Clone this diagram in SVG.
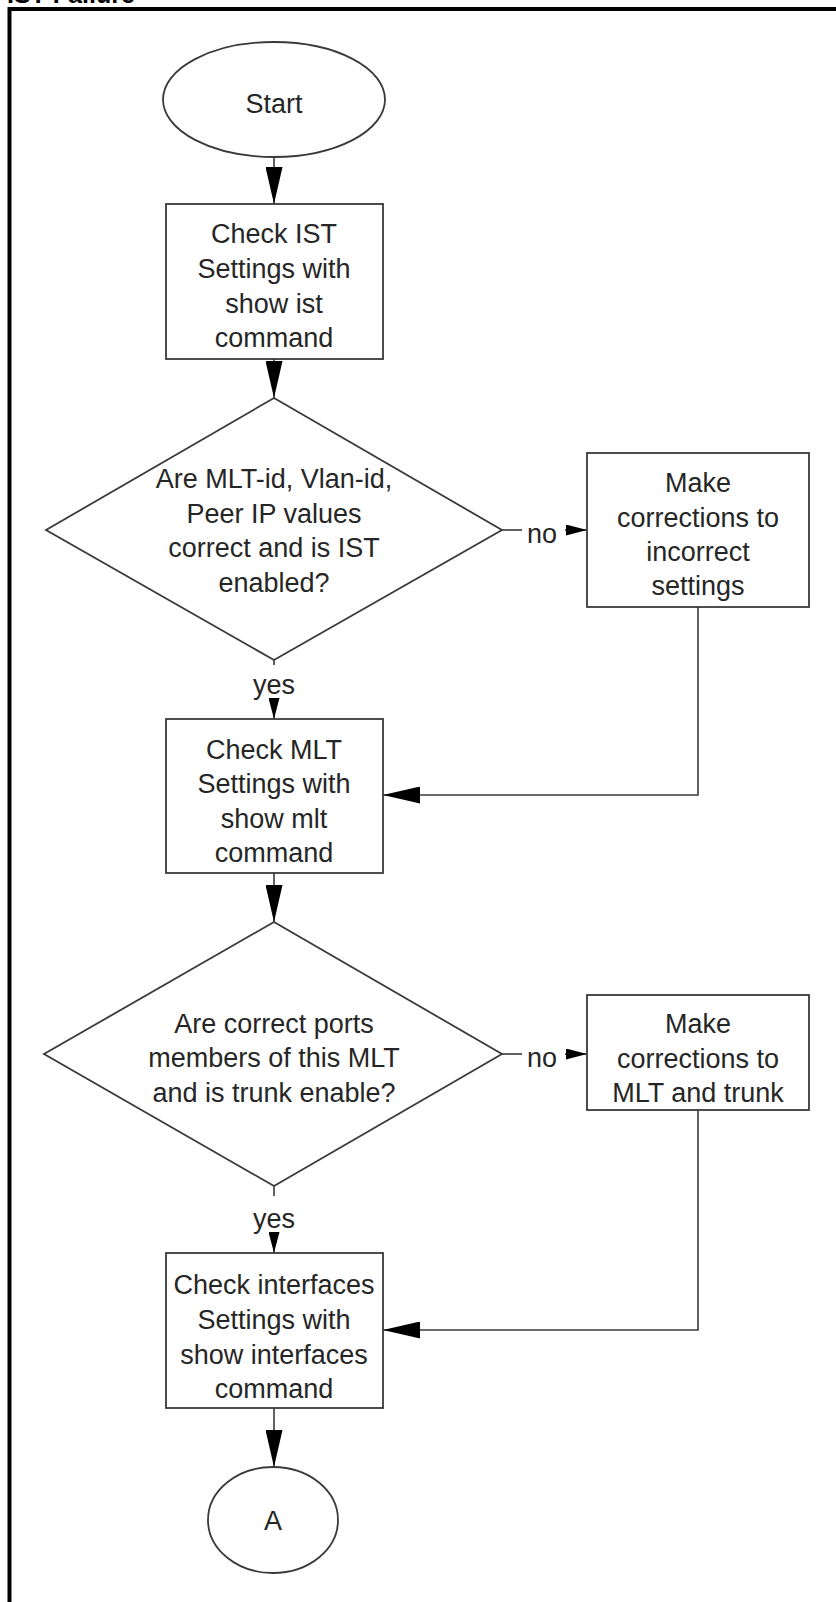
<svg xmlns="http://www.w3.org/2000/svg" width="836" height="1602" viewBox="0 0 836 1602">
<style>
.bg{fill:#fff}
.frame{fill:none;stroke:#000;stroke-width:4}
.shape{fill:#fff;stroke:#3a3a3a;stroke-width:1.8}
.conn{fill:none;stroke:#3a3a3a;stroke-width:1.6}
.t{font-family:"Liberation Sans",Arial,sans-serif;font-size:27px;fill:#262626;text-anchor:middle}
.title{font-family:"Liberation Sans",Arial,sans-serif;font-size:25px;font-weight:bold;fill:#000}
</style>
<defs>
<marker id="big" markerUnits="userSpaceOnUse" markerWidth="37" markerHeight="17" viewBox="0 0 37 17" refX="37" refY="8.5" orient="auto">
<path d="M0,0 L37,8.5 L0,17 z" fill="#000"/>
</marker>
<marker id="small" markerUnits="userSpaceOnUse" markerWidth="21" markerHeight="11" viewBox="0 0 21 11" refX="21" refY="5.5" orient="auto">
<path d="M0,0 L21,5.5 L0,11 z" fill="#000"/>
</marker>
</defs>
<rect class="bg" x="0" y="0" width="836" height="1602"/>
<text class="title" x="7" y="3">IST Failure</text>
<path class="frame" d="M9.5,1602 L9.5,9 L836,9"/>

<g id="connectors">
<path class="conn" d="M274,157 L274,204" marker-end="url(#big)"/>
<path class="conn" d="M274,359 L274,398" marker-end="url(#big)"/>
<path class="conn" d="M502,530 L522,530"/>
<path class="conn" d="M565,530 L587,530" marker-end="url(#small)"/>
<text class="t" x="542" y="543">no</text>
<path class="conn" d="M274,660 L274,665"/>
<text class="t" x="274" y="694">yes</text>
<path class="conn" d="M274,698 L274,719" marker-end="url(#small)"/>
<path class="conn" d="M698,607 L698,795 L383,795" marker-end="url(#big)"/>
<path class="conn" d="M274,873 L274,922" marker-end="url(#big)"/>
<path class="conn" d="M502,1054 L522,1054"/>
<path class="conn" d="M565,1054 L587,1054" marker-end="url(#small)"/>
<text class="t" x="542" y="1067">no</text>
<path class="conn" d="M274,1186 L274,1196"/>
<text class="t" x="274" y="1228">yes</text>
<path class="conn" d="M274,1232 L274,1253" marker-end="url(#small)"/>
<path class="conn" d="M698,1110 L698,1330 L383,1330" marker-end="url(#big)"/>
<path class="conn" d="M274,1408 L274,1467" marker-end="url(#big)"/>
</g>

<g id="start">
<ellipse class="shape" cx="274" cy="99.5" rx="111" ry="57.5"/>
<text class="t" x="274" y="113">Start</text>
</g>

<g id="check-ist">
<rect class="shape" x="166" y="204" width="217" height="155"/>
<text class="t" x="274" y="243">Check IST</text>
<text class="t" x="274" y="278">Settings with</text>
<text class="t" x="274" y="313">show ist</text>
<text class="t" x="274" y="347">command</text>
</g>

<g id="decision-ist">
<path class="shape" d="M274,398 L502,530 L274,660 L46,530 z"/>
<text class="t" x="274" y="488">Are MLT-id, Vlan-id,</text>
<text class="t" x="274" y="523">Peer IP values</text>
<text class="t" x="274" y="557">correct and is IST</text>
<text class="t" x="274" y="592">enabled?</text>
</g>

<g id="fix-ist">
<rect class="shape" x="587" y="453" width="222" height="154"/>
<text class="t" x="698" y="492">Make</text>
<text class="t" x="698" y="527">corrections to</text>
<text class="t" x="698" y="561">incorrect</text>
<text class="t" x="698" y="595">settings</text>
</g>

<g id="check-mlt">
<rect class="shape" x="166" y="719" width="217" height="154"/>
<text class="t" x="274" y="759">Check MLT</text>
<text class="t" x="274" y="793">Settings with</text>
<text class="t" x="274" y="828">show mlt</text>
<text class="t" x="274" y="862">command</text>
</g>

<g id="decision-mlt">
<path class="shape" d="M274,922 L502,1054 L274,1186 L44,1054 z"/>
<text class="t" x="274" y="1033">Are correct ports</text>
<text class="t" x="274" y="1067">members of this MLT</text>
<text class="t" x="274" y="1102">and is trunk enable?</text>
</g>

<g id="fix-mlt">
<rect class="shape" x="587" y="995" width="222" height="115"/>
<text class="t" x="698" y="1033">Make</text>
<text class="t" x="698" y="1068">corrections to</text>
<text class="t" x="698" y="1102">MLT and trunk</text>
</g>

<g id="check-interfaces">
<rect class="shape" x="166" y="1253" width="217" height="155"/>
<text class="t" x="274" y="1294">Check interfaces</text>
<text class="t" x="274" y="1329">Settings with</text>
<text class="t" x="274" y="1364">show interfaces</text>
<text class="t" x="274" y="1398">command</text>
</g>

<g id="connector-a">
<ellipse class="shape" cx="273" cy="1520" rx="65" ry="53"/>
<text class="t" x="273" y="1530">A</text>
</g>
</svg>
